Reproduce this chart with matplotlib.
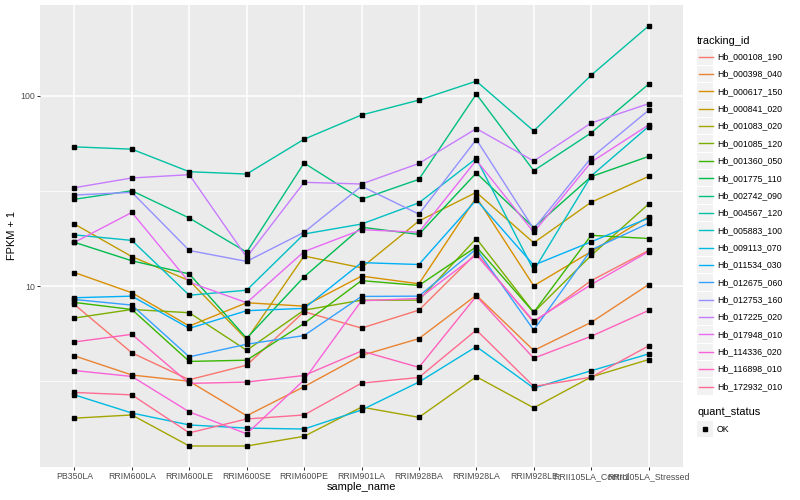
import numpy as np
import matplotlib.pyplot as plt
from matplotlib.lines import Line2D
from matplotlib.patches import Rectangle
from matplotlib.ticker import FixedLocator, NullFormatter

plt.rcParams['font.family'] = ['Liberation Sans', 'DejaVu Sans']

# Data (FPKM + 1)
samples = ["PB350LA", "RRIM600LA", "RRIM600LE", "RRIM600SE", "RRIM600PE", "RRIM901LA",
           "RRIM928BA", "RRIM928LA", "RRIM928LE", "RRII105LA_Control", "RRII105LA_Stressed"]

tracking_ids = ["Hb_000108_190", "Hb_000398_040", "Hb_000617_150", "Hb_000841_020",
                "Hb_001083_020", "Hb_001085_120", "Hb_001360_050", "Hb_001775_110",
                "Hb_002742_090", "Hb_004567_120", "Hb_005883_100", "Hb_009113_070",
                "Hb_011534_030", "Hb_012675_060", "Hb_012753_160", "Hb_017225_020",
                "Hb_017948_010", "Hb_114336_020", "Hb_116898_010", "Hb_172932_010"]

colors = ["#F8766D", "#EA8331", "#D89000", "#C09B00", "#A3A500", "#7CAE00", "#39B600",
          "#00BB4E", "#00BF7D", "#00C1A3", "#00BFC4", "#00BAE0", "#00B0F6", "#35A2FF",
          "#9590FF", "#C77CFF", "#E76BF3", "#FA62DB", "#FF62BC", "#FF6C91"]

hb_000108_190 = [8.02, 4.47, 3.23, 3.85, 7.35, 6.03, 7.49, 14.9, 6.46, 10.7, 15.4]
hb_000398_040 = [4.31, 3.42, 3.17, 2.09, 2.97, 4.33, 5.31, 8.97, 4.60, 6.46, 10.2]
hb_000617_150 = [11.8, 9.24, 6.18, 8.19, 7.86, 11.3, 10.3, 29.3, 10.05, 15.2, 23.2]
hb_000841_020 = [21.2, 14.3, 10.7, 5.25, 14.4, 12.5, 22.0, 31.1, 16.9, 27.6, 37.7]
hb_001083_020 = [2.03, 2.11, 1.45, 1.45, 1.63, 2.32, 2.05, 3.35, 2.30, 3.34, 4.12]
hb_001085_120 = [6.81, 7.55, 7.26, 4.61, 7.49, 8.45, 8.45, 17.8, 7.29, 14.5, 27.0]
hb_001360_050 = [8.22, 7.55, 4.03, 4.09, 6.38, 10.7, 10.1, 16.1, 7.29, 18.5, 17.8]
hb_001775_110 = [17.0, 13.6, 11.6, 5.33, 11.2, 20.4, 18.7, 39.3, 20.3, 37.6, 48.0]
hb_002742_090 = [28.6, 31.7, 22.8, 15.1, 44.3, 28.6, 36.4, 102.0, 40.4, 63.8, 115.0]
hb_004567_120 = [53.9, 52.4, 39.9, 38.8, 59.1, 79.2, 94.8, 119.2, 65.3, 128.1, 232.2]
hb_005883_100 = [18.6, 17.4, 8.97, 9.53, 18.8, 21.2, 27.4, 46.9, 12.1, 37.9, 68.9]
hb_009113_070 = [2.69, 2.16, 1.87, 1.80, 1.78, 2.24, 3.14, 4.82, 2.92, 3.60, 4.41]
hb_011534_030 = [8.70, 8.87, 6.01, 7.44, 7.65, 13.3, 13.0, 28.4, 12.9, 17.1, 22.8]
hb_012675_060 = [8.52, 7.96, 4.26, 4.96, 5.51, 8.84, 8.87, 15.7, 5.89, 15.5, 21.4]
hb_012753_160 = [30.1, 31.1, 15.4, 13.5, 19.2, 33.5, 23.9, 58.9, 20.0, 47.2, 83.8]
hb_017225_020 = [32.9, 37.0, 38.5, 14.2, 35.1, 34.4, 44.1, 67.2, 45.4, 71.9, 90.8]
hb_017948_010 = [17.0, 24.4, 10.5, 8.19, 15.2, 19.8, 19.2, 45.9, 19.2, 44.8, 70.2]
hb_114336_020 = [3.61, 3.36, 2.19, 1.68, 3.22, 8.39, 8.62, 14.6, 6.56, 10.2, 15.2]
hb_116898_010 = [5.10, 5.59, 3.09, 3.14, 3.40, 4.57, 3.75, 8.87, 4.19, 5.46, 7.46]
hb_172932_010 = [2.77, 2.69, 1.70, 2.01, 2.11, 3.10, 3.32, 5.89, 2.98, 3.33, 4.86]

series = [hb_000108_190, hb_000398_040, hb_000617_150, hb_000841_020, hb_001083_020,
          hb_001085_120, hb_001360_050, hb_001775_110, hb_002742_090, hb_004567_120,
          hb_005883_100, hb_009113_070, hb_011534_030, hb_012675_060, hb_012753_160,
          hb_017225_020, hb_017948_010, hb_114336_020, hb_116898_010, hb_172932_010]

W, H = 800, 500
fig = plt.figure(figsize=(W / 100, H / 100), dpi=100)
fig.patch.set_facecolor('white')

def fx(px):
    return px / W

def fy(py):
    return 1 - py / H

ax = fig.add_axes([fx(40), fy(467), (683 - 40) / W, (467 - 5) / H])
ax.set_facecolor('#EBEBEB')

x = np.arange(1, len(samples) + 1)
for vals, col in zip(series, colors):
    ax.plot(x, vals, color=col, lw=1.0, zorder=3)
for vals in series:
    ax.plot(x, vals, ls='none', marker='s', ms=2.7, color='black', mec='black', zorder=4)

# log scale with ggplot-like 5% expansion
allv = np.log10(np.concatenate([np.array(s) for s in series]))
lo, hi = allv.min(), allv.max()
pad = (hi - lo) * 0.05
ax.set_yscale('log')
ax.set_ylim(10 ** (lo - pad), 10 ** (hi + pad))
ax.set_xlim(0.4, len(samples) + 0.6)

ax.yaxis.set_major_locator(FixedLocator([10, 100]))
ax.set_yticklabels(["10", "100"])
ax.yaxis.set_minor_locator(FixedLocator([10 ** 0.5, 10 ** 1.5, 10 ** 2.5]))
ax.yaxis.set_minor_formatter(NullFormatter())
ax.set_xticks(x)
ax.set_xticklabels(samples)

ax.grid(which='major', color='white', lw=1.1)
ax.grid(which='minor', axis='y', color='white', lw=0.55)
ax.set_axisbelow(True)
for s in ax.spines.values():
    s.set_visible(False)
ax.tick_params(which='major', length=2.0, width=0.75, color='#333333',
               labelsize=6.3, labelcolor='#4D4D4D', pad=1.6)
ax.tick_params(which='minor', length=0)

fig.text(fx(361.5), fy(487), "sample_name", ha='center', va='center', fontsize=7.9)
fig.text(fx(12), fy(236), "FPKM + 1", ha='center', va='center', rotation=90, fontsize=7.9)

# legend: tracking_id
fig.text(fx(697), fy(40.5), "tracking_id", ha='left', va='center', fontsize=7.9)
step = 17.36
for i, (tid, col) in enumerate(zip(tracking_ids, colors)):
    cy = 56.7 + i * step
    fig.add_artist(Rectangle((fx(697), fy(cy + 8.2)), 16.4 / W, 16.4 / H,
                             transform=fig.transFigure, facecolor='#F2F2F2', edgecolor='none'))
    fig.add_artist(Line2D([fx(698.5), fx(712.5)], [fy(cy), fy(cy)], color=col, lw=1.0,
                          transform=fig.transFigure))
    fig.text(fx(717), fy(cy), tid, ha='left', va='center', fontsize=6.3)

# legend: quant_status
fig.text(fx(697), fy(412.3), "quant_status", ha='left', va='center', fontsize=7.9)
cy = 429
fig.add_artist(Rectangle((fx(697), fy(cy + 8.2)), 16.4 / W, 16.4 / H,
                         transform=fig.transFigure, facecolor='#F2F2F2', edgecolor='none'))
fig.add_artist(Line2D([fx(705)], [fy(cy)], ls='none', marker='s', ms=2.7, color='black',
                      transform=fig.transFigure))
fig.text(fx(717), fy(cy), "OK", ha='left', va='center', fontsize=6.3)

fig.savefig('out.png', dpi=100)
